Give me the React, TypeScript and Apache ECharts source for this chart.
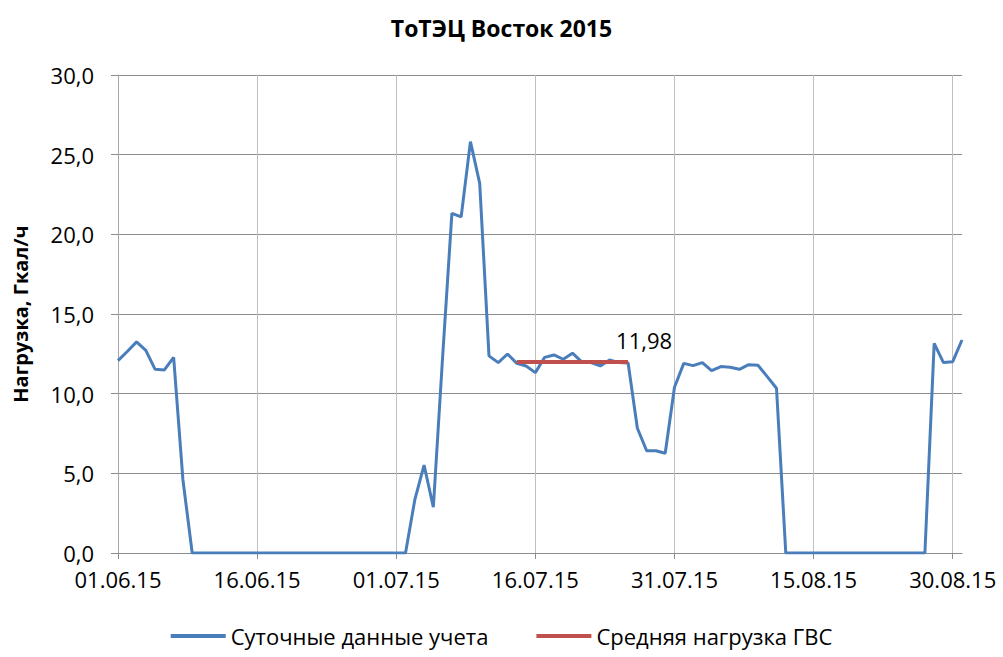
import React, { useEffect, useRef } from "react";
import * as echarts from "echarts";

const TITLE = "ТоТЭЦ Восток 2015";
const Y_NAME = "Нагрузка, Гкал/ч";
const SERIES_DAILY = "Суточные данные учета";
const SERIES_AVG = "Средняя нагрузка ГВС";

const months: [string, number][] = [["06", 30], ["07", 31], ["08", 31]];
const categories: string[] = [];
months.forEach(([m, n]) => {
  for (let d = 1; d <= n; d++) categories.push(`${d < 10 ? "0" + d : d}.${m}.15`);
});

const dailyValues: number[] = [
  12.07, 12.65, 13.25, 12.72, 11.53, 11.49, 12.28, 4.6,
  0, 0, 0, 0, 0, 0, 0, 0, 0, 0, 0, 0, 0, 0, 0, 0, 0, 0, 0, 0, 0, 0, 0, 0,
  3.33, 5.52, 2.87, 12.3, 21.32, 21.1, 25.82, 23.2, 12.37, 11.95,
  12.49, 11.9, 11.74, 11.32, 12.28, 12.43, 12.16, 12.54, 12.0, 11.95,
  11.74, 12.12, 11.95, 11.92, 7.83, 6.42, 6.42, 6.26, 10.4, 11.9,
  11.76, 11.95, 11.44, 11.7, 11.66, 11.53, 11.82, 11.78, 11.07, 10.34,
  0, 0, 0, 0, 0, 0, 0, 0, 0, 0, 0, 0, 0, 0, 0, 0,
  13.16, 11.95, 12.01, 13.37,
];

const avgValue = 11.98;
const avgStart = "14.07.15";
const avgEnd = "26.07.15";

const avgValues: (number | null)[] = categories.map((c, i) =>
  i >= categories.indexOf(avgStart) && i <= categories.indexOf(avgEnd) ? avgValue : null
);

const FONT = "'Open Sans', 'Noto Sans', sans-serif";
const FS = 22;

export default function App() {
  const ref = useRef<HTMLDivElement>(null);
  useEffect(() => {
    if (!ref.current) return;
    const chart = echarts.init(ref.current, undefined, { renderer: "svg" });
    const endIdx = categories.indexOf(avgEnd);
    chart.setOption({
      animation: false,
      backgroundColor: "#ffffff",
      textStyle: { fontFamily: FONT },
      title: {
        text: TITLE,
        left: "center",
        top: 11,
        textStyle: { fontFamily: FONT, fontWeight: "bold", fontSize: 23, color: "#000" },
      },
      legend: {
        bottom: 5,
        left: "center",
        itemWidth: 55,
        itemHeight: 4,
        itemGap: 48,
        icon: "rect",
        textStyle: { fontFamily: FONT, fontSize: FS, color: "#000" },
        data: [SERIES_DAILY, SERIES_AVG],
      },
      grid: { left: 118, right: 41, top: 75, bottom: 104, containLabel: false },
      xAxis: {
        type: "category",
        data: categories,
        boundaryGap: false,
        axisLine: { show: true, lineStyle: { color: "#8c8c8c", width: 1 } },
        axisTick: { show: true, interval: 14, length: 6, inside: false, lineStyle: { color: "#8c8c8c" } },
        axisLabel: { interval: 14, margin: 15, fontFamily: FONT, fontSize: FS, color: "#000" },
        splitLine: { show: true, interval: 14, lineStyle: { color: "#bfbfbf", width: 1 } },
      },
      yAxis: {
        type: "value",
        min: 0,
        max: 30,
        interval: 5,
        name: Y_NAME,
        nameLocation: "middle",
        nameGap: 88,
        nameTextStyle: { fontFamily: FONT, fontWeight: "bold", fontSize: 20, color: "#000" },
        axisLine: { show: true, lineStyle: { color: "#a6a6a6", width: 1 } },
        axisTick: { show: true, length: 7, lineStyle: { color: "#8c8c8c" } },
        axisLabel: {
          margin: 24,
          fontFamily: FONT,
          fontSize: FS,
          color: "#000",
          formatter: (v: number) => v.toFixed(1).replace(".", ","),
        },
        splitLine: { show: true, lineStyle: { color: "#8c8c8c", width: 1 } },
      },
      series: [
        {
          name: SERIES_DAILY,
          type: "line",
          data: dailyValues,
          showSymbol: false,
          symbol: "none",
          lineStyle: { color: "#4a7ebb", width: 3 },
          itemStyle: { color: "#4a7ebb" },
          z: 2,
        },
        {
          name: SERIES_AVG,
          type: "line",
          data: avgValues.map((v, i) =>
            i === endIdx
              ? {
                  value: v,
                  label: {
                    show: true,
                    position: "top",
                    offset: [16, -6],
                    formatter: () => avgValue.toFixed(2).replace(".", ","),
                    fontFamily: FONT,
                    fontSize: FS,
                    color: "#000",
                  },
                }
              : v
          ),
          showSymbol: true,
          symbol: "circle",
          symbolSize: 0,
          connectNulls: false,
          lineStyle: { color: "#c0504d", width: 4 },
          itemStyle: { color: "#c0504d" },
          z: 3,
        },
      ],
    });
    return () => chart.dispose();
  }, []);
  return (
    <div
      ref={ref}
      style={{ position: "fixed", left: 0, top: 0, width: 1003, height: 657 }}
    />
  );
}
